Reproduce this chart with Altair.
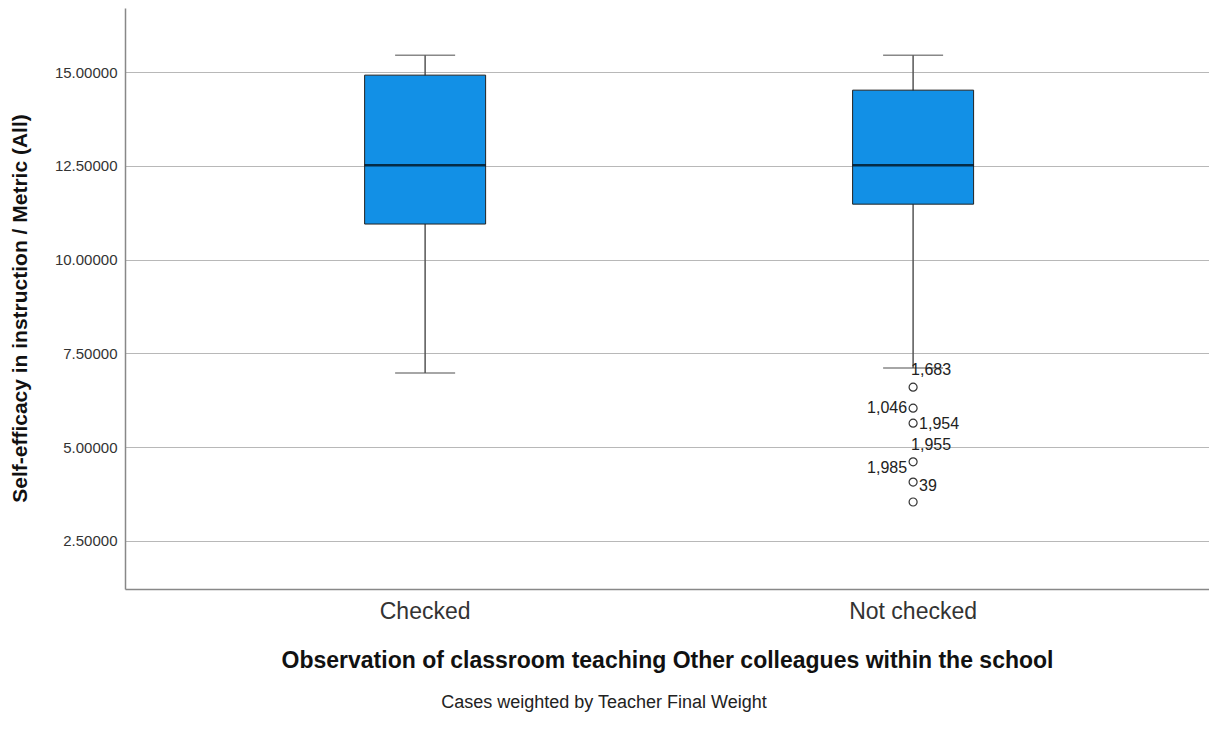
import altair as alt
import pandas as pd

# ---- data ----
groups = ["Checked", "Not checked"]
whisker_low = [6.98, 7.11]
q1 = [10.95, 11.48]
median = [12.52, 12.52]
q3 = [14.92, 14.52]
whisker_high = [15.45, 15.45]

outlier_values = [6.60, 6.04, 5.64, 4.61, 4.07, 3.54]
outlier_group = "Not checked"

label_texts = ["1,683", "1,046", "1,954", "1,955", "1,985", "39"]
label_values = [7.06, 6.04, 5.62, 5.06, 4.45, 3.97]
label_sides = ["over", "left", "right", "over", "left", "right"]

FONT = "Liberation Sans"
BOX_FILL = "#1290e6"
WHISKER = "#555555"

box_df = pd.DataFrame({
    "group": groups, "low": whisker_low, "q1": q1, "median": median,
    "q3": q3, "high": whisker_high,
})
out_df = pd.DataFrame({"group": [outlier_group] * len(outlier_values),
                       "value": outlier_values})
lab_df = pd.DataFrame({"group": [outlier_group] * len(label_texts),
                       "text": label_texts, "value": label_values,
                       "side": label_sides})

x_enc = alt.X(
    "group:N",
    sort=groups,
    scale=alt.Scale(type="band", paddingInner=0.5, paddingOuter=0.3607, align=0.506),
    axis=alt.Axis(
        title="Observation of classroom teaching Other colleagues within the school",
        titleFont=FONT, titleFontSize=23, titleFontWeight="bold", titleColor="#111",
        titlePadding=26,
        labelFont=FONT, labelFontSize=23, labelColor="#333", labelAngle=0,
        labelPadding=11, ticks=False, domainColor="#888", domainWidth=1.5,
        grid=False,
    ),
)
y_scale = alt.Scale(domain=[1.22, 16.71], nice=False, zero=False)
y_axis = alt.Axis(
    title="Self-efficacy in instruction / Metric (All)",
    titleFont=FONT, titleFontSize=21, titleFontWeight="bold", titleColor="#111",
    titlePadding=24, titleY=300,
    labelFont=FONT, labelFontSize=15, labelColor="#333", labelPadding=8,
    format=".5f", values=[2.5, 5.0, 7.5, 10.0, 12.5, 15.0],
    ticks=False, domainColor="#888", domainWidth=1.5,
    grid=True, gridColor="#b8b8b8", gridWidth=1,
)

base = alt.Chart(box_df)

whisker = base.mark_rule(color=WHISKER, strokeWidth=1.5).encode(
    x=x_enc,
    y=alt.Y("low:Q", scale=y_scale, axis=y_axis),
    y2="high:Q",
)
box = base.mark_bar(size=121, color=BOX_FILL, stroke="#222", strokeWidth=1).encode(
    x=x_enc, y=alt.Y("q1:Q", scale=y_scale), y2="q3:Q",
)
med = base.mark_tick(color="#000", thickness=2.5, size=121).encode(
    x=x_enc, y=alt.Y("median:Q", scale=y_scale),
)
cap_hi = base.mark_tick(color=WHISKER, thickness=1.5, size=60).encode(
    x=x_enc, y=alt.Y("high:Q", scale=y_scale),
)
cap_lo = base.mark_tick(color=WHISKER, thickness=1.5, size=60).encode(
    x=x_enc, y=alt.Y("low:Q", scale=y_scale),
)
pts = alt.Chart(out_df).mark_point(
    shape="circle", filled=False, size=64, color="#333", strokeWidth=1.2, opacity=1
).encode(x=x_enc, y=alt.Y("value:Q", scale=y_scale))

lab_base = alt.Chart(lab_df)
lab_left = lab_base.transform_filter(alt.datum.side == "left").mark_text(
    align="right", baseline="middle", dx=-6, font=FONT, fontSize=16, color="#222"
).encode(x=x_enc, y=alt.Y("value:Q", scale=y_scale), text="text:N")
lab_right = lab_base.transform_filter(alt.datum.side == "right").mark_text(
    align="left", baseline="middle", dx=6, font=FONT, fontSize=16, color="#222"
).encode(x=x_enc, y=alt.Y("value:Q", scale=y_scale), text="text:N")
lab_over = lab_base.transform_filter(alt.datum.side == "over").mark_text(
    align="left", baseline="middle", dx=-2, font=FONT, fontSize=16, color="#222"
).encode(x=x_enc, y=alt.Y("value:Q", scale=y_scale), text="text:N")

chart = alt.layer(
    whisker, box, med, cap_hi, cap_lo, pts, lab_left, lab_right, lab_over
).properties(
    width=1084,
    height=581,
    background="white",
    autosize=alt.AutoSizeParams(type="none"),
    padding={"left": 117, "top": 0, "right": 0, "bottom": 133},
    title=alt.TitleParams(
        "Cases weighted by Teacher Final Weight",
        orient="bottom", anchor="middle", dx=-63, offset=22,
        font=FONT, fontSize=18, fontWeight="normal", color="#222",
    ),
).configure_view(stroke=None)

chart.save("out.html", embed_options={"renderer": "svg", "actions": False})
